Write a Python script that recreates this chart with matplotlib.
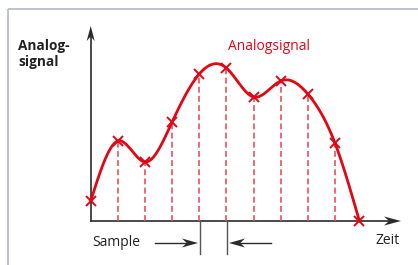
import numpy as np
import matplotlib
matplotlib.use("Agg")
import matplotlib.pyplot as plt
from matplotlib.patches import Polygon

# ---- data ----
sample_times = [0, 1, 2, 3, 4, 5, 6, 7, 8, 9, 9.9]
sample_values = [2.0, 8.0, 5.9, 9.9, 14.7, 15.3, 12.4, 14.0, 12.7, 7.8, 0.0]
y_label = "Analog-\nsignal"
x_label = "Zeit"
curve_label = "Analogsignal"
sample_label = "Sample"

RED = "#e30613"
DASH_RED = "#e8505b"
AX_COL = "#2b2b2b"
FONT = "Open Sans"

W, H = 418, 265
fig = plt.figure(figsize=(W / 100, H / 100), dpi=100)

# background / decoration axes in pixel coordinates
bg = fig.add_axes([0, 0, 1, 1])
bg.set_xlim(0, W)
bg.set_ylim(H, 0)
bg.axis("off")

# data axes: t -> x_px = X0 + DX*t ; v -> y_px = Y0 - DY*v
X0, DX, Y0, DY = 90.7, 27.14, 221.0, 10.0
ax = fig.add_axes([0, 0, 1, 1])
ax.set_xlim(-X0 / DX, (W - X0) / DX)
ax.set_ylim((Y0 - H) / DY, Y0 / DY)
ax.axis("off")
ax.patch.set_alpha(0)

# frame
bg.plot([8, 8], [H + 5, 9], color="#b9bdc9", lw=1.3, solid_capstyle="butt")
bg.plot([8, W + 5], [9, 9], color="#b9bdc9", lw=1.3, solid_capstyle="butt")


def arrowhead(tip, direction, length, width, notch=0.3, color=AX_COL):
    tx, ty = tip
    dx, dy = direction
    n = np.hypot(dx, dy)
    dx, dy = dx / n, dy / n
    px, py = -dy, dx
    bx, by = tx - dx * length, ty - dy * length
    pts = [
        (tx, ty),
        (bx + px * width / 2, by + py * width / 2),
        (tx - dx * length * (1 - notch), ty - dy * length * (1 - notch)),
        (bx - px * width / 2, by - py * width / 2),
    ]
    bg.add_patch(Polygon(pts, closed=True, facecolor=color, edgecolor="none", zorder=5))


# axes lines
bg.plot([X0, X0], [Y0, 32], color=AX_COL, lw=1.2, zorder=4)
arrowhead((X0, 26), (0, -1), 15, 8)
bg.plot([X0, 392], [Y0, Y0], color=AX_COL, lw=1.2, zorder=4)
arrowhead((401, Y0), (1, 0), 17, 9)

# smooth curve (natural cubic spline through samples)
t = np.asarray(sample_times, float)
v = np.asarray(sample_values, float)
n = len(t)
h = np.diff(t)
A = np.zeros((n, n))
b = np.zeros(n)
A[0, 0] = A[-1, -1] = 1
for i in range(1, n - 1):
    A[i, i - 1] = h[i - 1]
    A[i, i] = 2 * (h[i - 1] + h[i])
    A[i, i + 1] = h[i]
    b[i] = 6 * ((v[i + 1] - v[i]) / h[i] - (v[i] - v[i - 1]) / h[i - 1])
M = np.linalg.solve(A, b)
tt, vv = [], []
for i in range(n - 1):
    s = np.linspace(t[i], t[i + 1], 40)
    a_ = (t[i + 1] - s) / h[i]
    b_ = (s - t[i]) / h[i]
    y = (a_ * v[i] + b_ * v[i + 1]
         + ((a_ ** 3 - a_) * M[i] + (b_ ** 3 - b_) * M[i + 1]) * h[i] ** 2 / 6)
    tt.extend(s)
    vv.extend(y)

# dashed sample lines
for ti, vi in zip(sample_times[1:-1], sample_values[1:-1]):
    ax.plot([ti, ti], [0, vi], color=DASH_RED, lw=1.2, ls=(0, (3.5, 2)), zorder=3)

ax.plot(tt, vv, color=RED, lw=2.0, zorder=6, solid_capstyle="round")
ax.plot(sample_times, sample_values, ls="none", marker="x", ms=7.5,
        mew=1.4, color=RED, zorder=7)

# sample interval indicator
bg.plot([200, 200], [Y0, 254], color="#555555", lw=1.0, zorder=4)
bg.plot([227, 227], [Y0, 254], color="#555555", lw=1.0, zorder=4)
bg.plot([155, 190], [243, 243], color=AX_COL, lw=1.0, zorder=4)
arrowhead((198, 243), (1, 0), 16, 9)
bg.plot([236, 271], [243, 243], color=AX_COL, lw=1.0, zorder=4)
arrowhead((229, 243), (-1, 0), 16, 9)

# texts
bg.text(18, 54, y_label, fontsize=9.8, fontweight="bold", family=FONT,
        color="#222222", va="center", ha="left", multialignment="left",
        linespacing=1.2)
bg.text(228, 46, curve_label, fontsize=10, family=FONT, color=RED,
        va="center", ha="left")
bg.text(375, 240, x_label, fontsize=10, family=FONT, color="#222222",
        va="center", ha="left")
bg.text(92, 243, sample_label, fontsize=10, family=FONT, color="#222222",
        va="center", ha="left")

fig.savefig("out.png", dpi=100)
